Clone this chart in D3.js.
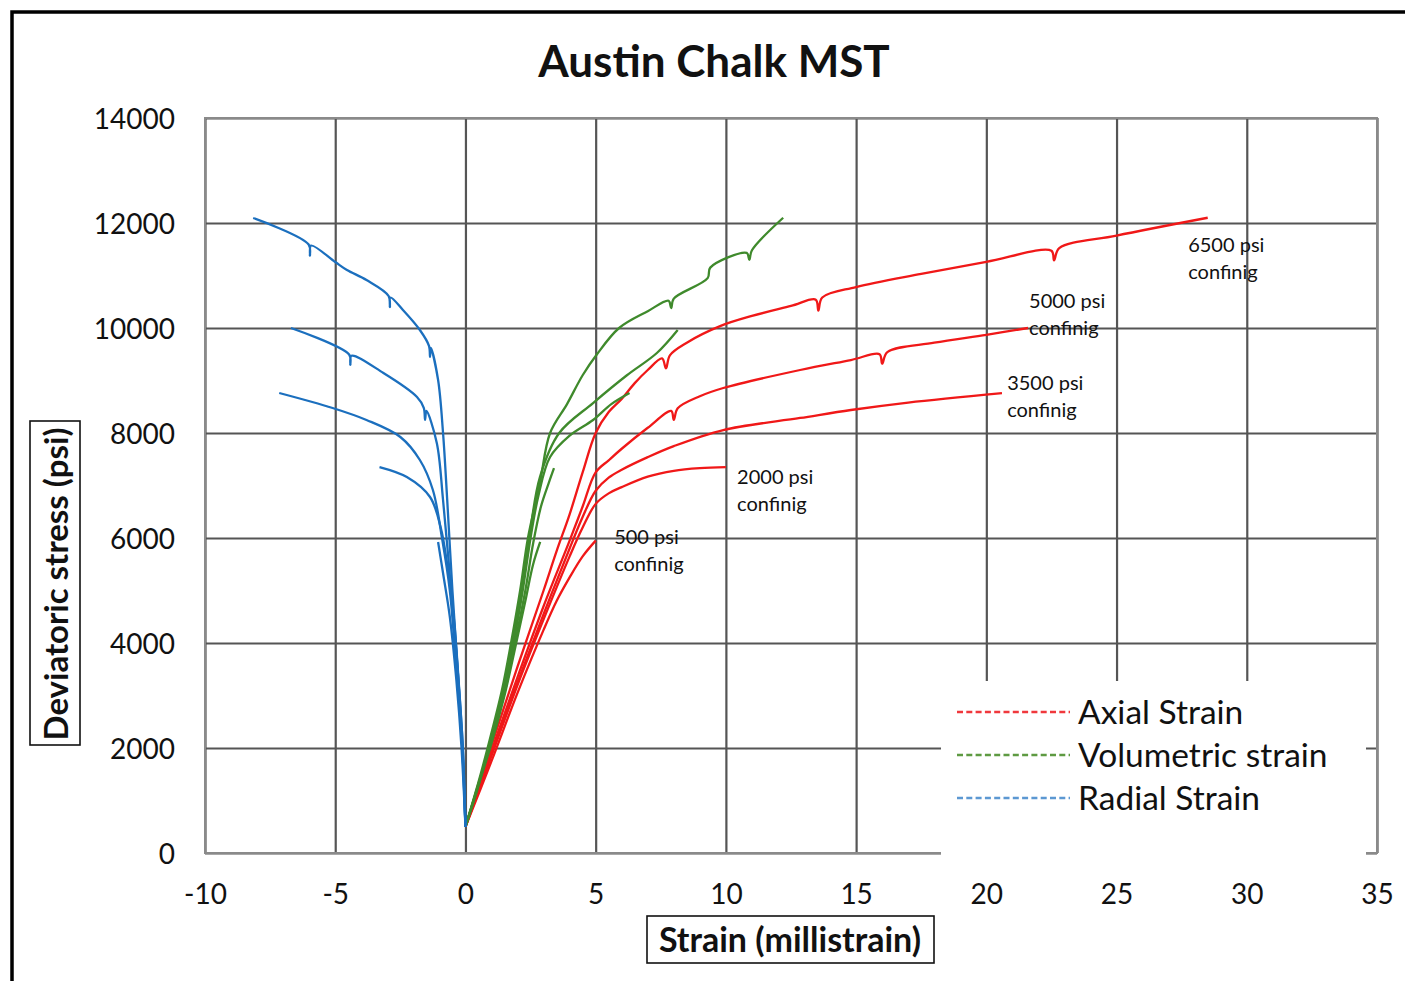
<!DOCTYPE html>
<html>
<head>
<meta charset="utf-8">
<script src="https://cdnjs.cloudflare.com/ajax/libs/d3/7.8.5/d3.min.js"></script>
<style>
  body { margin: 0; background: #fff; }
  text { font-family: Lato, "Open Sans", sans-serif; fill: #111; }
</style>
</head>
<body>
<svg id="chart" width="1405" height="981"></svg>
<script>
// stress in psi vs strain in millistrain
const confining = ["500", "2000", "3500", "5000", "6500"];

const axial500 = [[0,500],[1,1750],[2,3050],[3,4250],[3.5,4800],[4,5250],[4.5,5650],[5,5950]];
const axial2000 = [[0,500],[1,1850],[2,3200],[3,4450],[4,5650],[4.5,6200],[5,6650],[5.5,6850],[6,6970],[7,7170],[8,7280],[9,7330],[10,7350]];
const axial3500 = [[0,500],[1,1900],[2,3250],[3,4550],[4,5800],[4.5,6400],[5,6900],[5.5,7150],[6,7300],[7,7540],[8,7750],[9.9,8057],[12.85,8286],[14.8,8438],[17,8580],[20.6,8760]];
const axial5000 = [[0,500],[1,1950],[2,3350],[3,4700],[4,5950],[4.5,6600],[5,7250],[5.5,7480],[6,7700],[7,8100],[7.9,8420],[8.0,8250],[8.15,8470],[9,8700],[9.9,8857],[12.85,9200],[14.8,9390],[15.9,9500],[16.0,9320],[16.2,9540],[18,9720],[20,9870],[21.6,10000]];
const axial6500 = [[0,500],[1,2050],[2,3550],[3,5000],[3.5,5750],[4,6450],[4.5,7250],[5,8000],[5.5,8400],[6,8650],[6.5,8950],[7,9200],[7.55,9420],[7.7,9230],[7.85,9480],[8.5,9720],[9.8,10040],[11,10230],[12.5,10420],[13.45,10540],[13.55,10330],[13.7,10580],[15,10780],[17.5,11030],[20,11260],[22.5,11470],[22.6,11290],[22.8,11520],[25,11760],[28.5,12100]];

const vol500 = [[0,500],[0.5,1300],[0.95,2000],[1.5,3000],[1.95,4000],[2.3,4800],[2.6,5500],[2.87,5924]];
const vol2000 = [[0,500],[0.5,1280],[0.9,2000],[1.5,3050],[1.9,4000],[2.3,5000],[2.6,5900],[2.9,6600],[3.2,7050],[3.4,7330]];
const vol3500 = [[0,500],[0.5,1300],[0.9,2000],[1.5,3100],[1.85,4000],[2.2,5000],[2.5,6000],[2.8,6800],[3.25,7543],[4,7950],[4.9,8248],[5.6,8550],[6.3,8762]];
const vol5000 = [[0,500],[0.5,1320],[0.9,2000],[1.45,3100],[1.8,4000],[2.15,5000],[2.45,6000],[2.86,7162],[3.6,8000],[4.9,8571],[6.2,9100],[7.35,9524],[8.15,9962]];
const vol6500 = [[0,500],[0.5,1350],[0.85,2000],[1.4,3100],[1.75,4000],[2.1,5000],[2.4,6000],[2.86,7050],[3.25,8000],[3.9,8550],[4.5,9100],[5.05,9500],[5.9,10000],[7,10320],[7.8,10520],[7.9,10380],[8.0,10560],[9.3,10950],[9.4,11150],[10.8,11430],[10.9,11300],[11.0,11480],[12.2,12100]];

const rad500 = [[0,500],[-0.15,2000],[-0.35,3300],[-0.6,4500],[-0.85,5300],[-1.05,5924]];
const rad2000 = [[0,500],[-0.1,2000],[-0.25,3200],[-0.45,4500],[-0.7,5500],[-0.95,6200],[-1.36,6781],[-2.25,7162],[-3.3,7352]];
const rad3500 = [[0,500],[-0.12,2000],[-0.35,3500],[-0.6,5000],[-0.9,6000],[-1.25,6914],[-1.75,7486],[-2.5,7924],[-3.8,8248],[-5.1,8476],[-7.15,8762]];
const rad5000 = [[0,500],[-0.1,2000],[-0.3,3500],[-0.55,5000],[-0.86,6724],[-1.1,7810],[-1.5,8420],[-1.55,8250],[-1.6,8480],[-1.86,8686],[-3.15,9143],[-4.38,9470],[-4.42,9300],[-4.46,9490],[-6.7,10000]];
const rad6500 = [[0,500],[-0.12,2000],[-0.3,3500],[-0.5,5000],[-0.7,6724],[-0.86,8000],[-1.05,9010],[-1.33,9620],[-1.36,9450],[-1.4,9660],[-1.75,9962],[-2.4,10343],[-2.88,10580],[-2.9,10400],[-2.95,10610],[-3.8,10914],[-4.55,11105],[-5.0,11257],[-5.93,11570],[-5.97,11380],[-6.02,11590],[-8.15,12095]];

const series = [
  { name: "Axial Strain", color: "#f01818", legend: "#f0383c", curves: [axial500, axial2000, axial3500, axial5000, axial6500] },
  { name: "Volumetric strain", color: "#3f8a2c", legend: "#5e9a42", curves: [vol500, vol2000, vol3500, vol5000, vol6500] },
  { name: "Radial Strain", color: "#1b6fbe", legend: "#5c98d2", curves: [rad500, rad2000, rad3500, rad5000, rad6500] }
];

// label anchor points (strain, stress) for the confining notes
const noteX = [5.71, 10.43, 20.8, 21.64, 27.75];
const noteY = [5890, 7030, 8810, 10380, 11450];

const xTicks = d3.range(-10, 36, 5);
const yTicks = d3.range(0, 14001, 2000);

const svg = d3.select("#chart");
const pLeft = 205, pRight = 1377, pTop = 118, pBottom = 853;

const x = d3.scaleLinear().domain([-10, 35]).range([pLeft, pRight]);
const y = d3.scaleLinear().domain([0, 14000]).range([pBottom, pTop]);

svg.append("rect").attr("width", 1405).attr("height", 981).attr("fill", "#fff");

// outer frame (only top and left edges visible)
svg.append("path")
  .attr("d", "M12,981 V12 H1405")
  .attr("fill", "none").attr("stroke", "#000").attr("stroke-width", 3.5);

// title
svg.append("text")
  .attr("x", 714).attr("y", 77)
  .attr("text-anchor", "middle")
  .attr("font-size", 44).attr("font-weight", 700)
  .text("Austin Chalk MST");

// grid via axes
const fmt = d => String(d);
const gx = svg.append("g")
  .attr("transform", `translate(0,${pBottom})`)
  .call(d3.axisBottom(x).tickValues(xTicks).tickSize(-(pBottom - pTop)).tickPadding(24).tickFormat(fmt));
const gy = svg.append("g")
  .attr("transform", `translate(${pLeft},0)`)
  .call(d3.axisLeft(y).tickValues(yTicks).tickSize(-(pRight - pLeft)).tickPadding(30).tickFormat(fmt));

[gx, gy].forEach(g => {
  g.select(".domain").remove();
  g.selectAll(".tick line").attr("stroke", "#555").attr("stroke-width", 2.2);
  g.selectAll(".tick text").attr("font-size", 28).attr("fill", "#111").attr("font-family", "Lato, sans-serif");
});
gx.selectAll(".tick text").attr("dy", "0.95em");
gy.selectAll(".tick text").attr("dy", "0.36em");

// plot border
svg.append("rect")
  .attr("x", pLeft).attr("y", pTop)
  .attr("width", pRight - pLeft).attr("height", pBottom - pTop)
  .attr("fill", "none").attr("stroke", "#8a8a8a").attr("stroke-width", 2);

// legend box hides part of the grid
svg.append("rect")
  .attr("x", 941).attr("y", 681).attr("width", 425).attr("height", 180)
  .attr("fill", "#fff");

const line = d3.line()
  .x(d => x(d[0])).y(d => y(d[1]))
  .curve(d3.curveCatmullRom.alpha(0.5));

const plot = svg.append("g");
series.forEach(s => {
  plot.selectAll(null)
    .data(s.curves)
    .join("path")
    .attr("d", line)
    .attr("fill", "none")
    .attr("stroke", s.color)
    .attr("stroke-width", 2.3)
    .attr("stroke-linejoin", "round");
});

// confining notes
const notes = svg.append("g");
confining.forEach((c, i) => {
  const t = notes.append("text")
    .attr("x", x(noteX[i])).attr("y", y(noteY[i]))
    .attr("font-size", 20);
  t.append("tspan").attr("x", x(noteX[i])).attr("dy", 0).text(c + " psi");
  t.append("tspan").attr("x", x(noteX[i])).attr("dy", 27).text("confinig");
});

// legend
const lg = svg.append("g");
series.forEach((s, i) => {
  const ly = 712 + i * 43;
  lg.append("line")
    .attr("x1", 957).attr("x2", 1070).attr("y1", ly).attr("y2", ly)
    .attr("stroke", s.legend).attr("stroke-width", 2.4)
    .attr("stroke-dasharray", "6,3.3");
  lg.append("text")
    .attr("x", 1078).attr("y", ly).attr("dy", "0.36em")
    .attr("font-size", 33.5)
    .text(s.name);
});

// axis titles in boxes
svg.append("rect")
  .attr("x", 30).attr("y", 421).attr("width", 50).attr("height", 324)
  .attr("fill", "none").attr("stroke", "#111").attr("stroke-width", 1.6);
svg.append("text")
  .attr("transform", "translate(56,584) rotate(-90)")
  .attr("text-anchor", "middle").attr("dy", "0.36em")
  .attr("font-size", 33).attr("font-weight", 700)
  .text("Deviatoric stress (psi)");

svg.append("rect")
  .attr("x", 647).attr("y", 916).attr("width", 287).attr("height", 47)
  .attr("fill", "none").attr("stroke", "#111").attr("stroke-width", 1.6);
svg.append("text")
  .attr("x", 790).attr("y", 940)
  .attr("text-anchor", "middle").attr("dy", "0.36em")
  .attr("font-size", 34).attr("font-weight", 700)
  .text("Strain (millistrain)");
</script>
</body>
</html>
